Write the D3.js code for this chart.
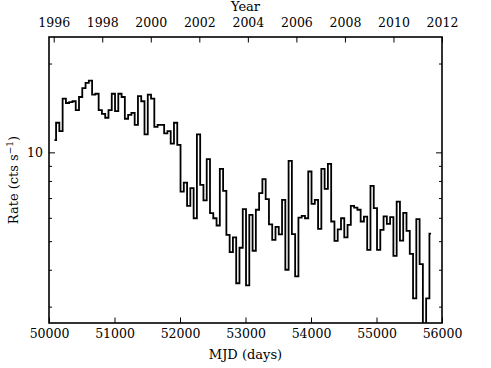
<!DOCTYPE html>
<html>
<head>
<meta charset="utf-8">
<script src="https://cdn.jsdelivr.net/npm/d3@7"></script>
<style>
  html, body { margin: 0; padding: 0; background: #fff; }
  svg { display: block; }
  text { font-family: "DejaVu Serif", serif; fill: #000; }
</style>
</head>
<body>
<svg id="chart" width="491" height="368"></svg>
<script>
// ---- data ----
const mjd = [50083, 50133, 50183, 50233, 50283, 50333, 50383, 50433, 50483, 50533,
  50583, 50633, 50683, 50733, 50783, 50833, 50883, 50933, 50983, 51033,
  51083, 51133, 51183, 51233, 51283, 51333, 51383, 51433, 51483, 51533,
  51583, 51633, 51683, 51733, 51783, 51833, 51883, 51933, 51983, 52033,
  52083, 52133, 52183, 52233, 52283, 52333, 52383, 52433, 52483, 52533,
  52583, 52633, 52683, 52733, 52783, 52833, 52883, 52933, 52983, 53033,
  53083, 53133, 53183, 53233, 53283, 53333, 53383, 53433, 53483, 53533,
  53583, 53633, 53683, 53733, 53783, 53833, 53883, 53933, 53983, 54033,
  54083, 54133, 54183, 54233, 54283, 54333, 54383, 54433, 54483, 54533,
  54583, 54633, 54683, 54733, 54783, 54833, 54883, 54933, 54983, 55033,
  55083, 55133, 55183, 55233, 55283, 55333, 55383, 55433, 55483, 55533,
  55583, 55633, 55683, 55733, 55783, 55833];
const rate = [11.0, 12.6, 11.8, 15.2, 14.7, 14.8, 14.9, 13.9, 15.4, 16.5,
  17.2, 17.5, 15.7, 15.8, 13.9, 13.5, 13.1, 13.9, 15.8, 13.8,
  15.8, 15.4, 13.0, 13.4, 13.6, 12.4, 15.5, 14.9, 11.5, 15.7,
  15.2, 12.2, 12.4, 12.4, 11.6, 11.8, 10.7, 12.6, 10.6, 7.36,
  7.90, 6.59, 7.56, 5.98, 11.5, 7.76, 6.87, 9.48, 6.22, 5.98,
  5.65, 8.79, 7.40, 5.25, 4.59, 5.15, 3.60, 4.75, 6.42, 3.54,
  6.14, 4.64, 6.39, 7.27, 8.12, 6.94, 5.70, 5.05, 5.59, 5.27,
  6.90, 4.00, 9.36, 5.28, 3.80, 6.01, 6.09, 5.98, 8.61, 6.69,
  6.90, 5.50, 8.79, 7.52, 9.14, 5.83, 5.01, 5.48, 5.98, 5.15,
  5.68, 6.59, 6.50, 6.39, 5.83, 6.06, 4.67, 7.70, 6.47, 4.67,
  5.46, 6.07, 5.72, 6.03, 4.46, 6.81, 5.02, 6.24, 5.42, 4.53,
  3.20, 5.94, 4.18, 2.40, 3.20, 5.30];
const mjdTicks = [50000, 51000, 52000, 53000, 54000, 55000, 56000];
const yearTicks = [1996, 1998, 2000, 2002, 2004, 2006, 2008, 2010, 2012];
const rateMajorTicks = [10];
const rateMinorTicks = [3, 4, 5, 6, 7, 8, 9, 20];

// ---- layout ----
const L = 49, R = 442, T = 37, B = 323;
const svg = d3.select("#chart");

const x = d3.scaleLinear().domain([50000, 56000]).range([L, R]);
const xYear = d3.scaleLinear().domain([1995.806, 2012]).range([L, R]);
const y = d3.scaleLog().domain([2.64, 24.6]).range([B, T]);

svg.append("defs").append("clipPath").attr("id", "clip")
  .append("rect").attr("x", L).attr("y", T).attr("width", R - L).attr("height", B - T);

// data line
const data = mjd.map((m, i) => ({ m, r: rate[i] }));
const line = d3.line().x(d => x(d.m)).y(d => y(d.r)).curve(d3.curveStep);
svg.append("path").datum(data)
  .attr("clip-path", "url(#clip)")
  .attr("d", line)
  .attr("fill", "none")
  .attr("stroke", "#000")
  .attr("stroke-width", 1.8)
  .attr("stroke-linejoin", "miter");

function styleAxis(g, fs) {
  g.select(".domain").remove();
  g.selectAll(".tick line").attr("stroke", "#000").attr("stroke-width", 1);
  g.selectAll(".tick text").attr("font-family", "DejaVu Serif").attr("font-size", fs).attr("fill", "#000");
}

// bottom axis
svg.append("g").attr("transform", `translate(0,${B})`)
  .call(d3.axisBottom(x).tickValues(mjdTicks).tickFormat(d3.format("d"))
    .tickSizeInner(-5.5).tickSizeOuter(0).tickPadding(6))
  .call(g => styleAxis(g, 12.5));

// top axis (years)
svg.append("g").attr("transform", `translate(0,${T})`)
  .call(d3.axisTop(xYear).tickValues(yearTicks).tickFormat(d3.format("d"))
    .tickSizeInner(-5.5).tickSizeOuter(0).tickPadding(10))
  .call(g => styleAxis(g, 12.5));

// left axis major + minor
svg.append("g").attr("transform", `translate(${L},0)`)
  .call(d3.axisLeft(y).tickValues(rateMajorTicks).tickFormat(d3.format("d"))
    .tickSizeInner(-6).tickSizeOuter(0).tickPadding(6))
  .call(g => styleAxis(g, 12.5));
svg.append("g").attr("transform", `translate(${L},0)`)
  .call(d3.axisLeft(y).tickValues(rateMinorTicks).tickFormat("")
    .tickSizeInner(-3).tickSizeOuter(0))
  .call(g => styleAxis(g, 12.5));

// right axis major + minor
svg.append("g").attr("transform", `translate(${R},0)`)
  .call(d3.axisRight(y).tickValues(rateMajorTicks).tickFormat("")
    .tickSizeInner(-6).tickSizeOuter(0))
  .call(g => styleAxis(g, 12.5));
svg.append("g").attr("transform", `translate(${R},0)`)
  .call(d3.axisRight(y).tickValues(rateMinorTicks).tickFormat("")
    .tickSizeInner(-3).tickSizeOuter(0))
  .call(g => styleAxis(g, 12.5));

// frame
svg.append("rect").attr("x", L).attr("y", T).attr("width", R - L).attr("height", B - T)
  .attr("fill", "none").attr("stroke", "#000").attr("stroke-width", 1.6);

// axis labels
svg.append("text").attr("x", (L + R) / 2).attr("y", 359)
  .attr("text-anchor", "middle").attr("font-size", 13).text("MJD (days)");
svg.append("text").attr("x", (L + R) / 2).attr("y", 11)
  .attr("text-anchor", "middle").attr("font-size", 13).text("Year");

const yl = svg.append("text")
  .attr("transform", `translate(18,${(T + B) / 2}) rotate(-90)`)
  .attr("text-anchor", "middle").attr("font-size", 13);
yl.append("tspan").text("Rate (cts s");
yl.append("tspan").attr("dy", -5).attr("font-size", 9).text("\u22121");
yl.append("tspan").attr("dy", 5).text(")");
</script>
</body>
</html>
